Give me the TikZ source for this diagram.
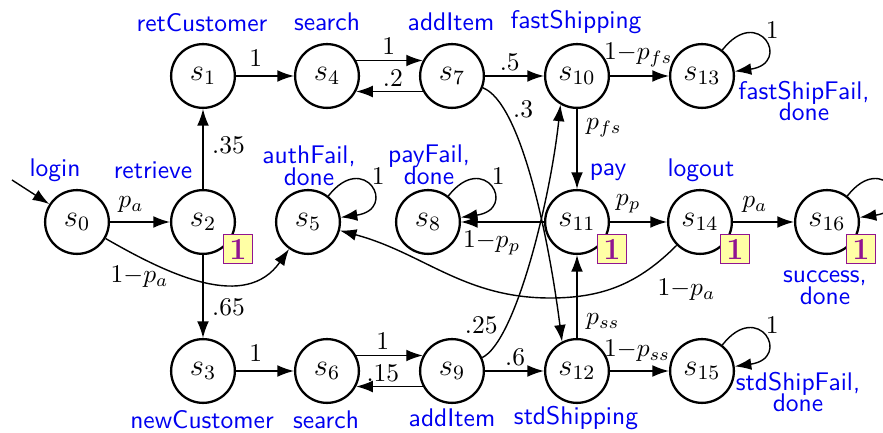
\documentclass[tikz,border=0pt]{standalone}
\usetikzlibrary{arrows.meta}
\definecolor{boxpurple}{RGB}{145,20,145}
\definecolor{boxfill}{RGB}{255,255,165}
\definecolor{lblblue}{RGB}{0,0,240}
\begin{document}
\begin{tikzpicture}[x=0.392pt,y=0.392pt,
  st/.style={circle,draw,line width=0.9pt,minimum size=25pt,inner sep=0pt,font=\large},
  act/.style={text=lblblue,font=\sffamily,align=center},
  rew/.style={draw=boxpurple,fill=boxfill,text=boxpurple,font=\large\bfseries,line width=0.6pt,minimum width=11.5pt,minimum height=11.5pt,inner sep=0pt},
  tr/.style={-{Latex[length=6.5pt,width=4.6pt]},line width=0.55pt},
  lp/.style={tr,distance=23pt}
]
\useasboundingbox (0,0) rectangle (883,432);
\clip (0,0) rectangle (883,432);

% states
\node[st] (s0) at (77,210) {$s_0$};
\node[st] (s2) at (203,210) {$s_2$};
\node[st] (s1) at (203,356) {$s_1$};
\node[st] (s4) at (327,356) {$s_4$};
\node[st] (s7) at (452,356) {$s_7$};
\node[st] (s10) at (577,356) {$s_{10}$};
\node[st] (s13) at (702,356) {$s_{13}$};
\node[st] (s5) at (308,210) {$s_5$};
\node[st] (s8) at (428,210) {$s_8$};
\node[st] (s11) at (577,210) {$s_{11}$};
\node[st] (s14) at (700,210) {$s_{14}$};
\node[st] (s16) at (827,210) {$s_{16}$};
\node[st] (s3) at (203,61) {$s_3$};
\node[st] (s6) at (327,61) {$s_6$};
\node[st] (s9) at (452,61) {$s_9$};
\node[st] (s12) at (577,61) {$s_{12}$};
\node[st] (s15) at (702,61) {$s_{15}$};

% action labels
\node[act] (Llogin) at (55,262) {login};
\node[act] (Lretrieve) at (153,262) {retrieve};
\node[act] (LretC) at (202,409) {retCustomer};
\node[act] (Lsearch1) at (327,410) {search};
\node[act] (LaddI1) at (451,410) {addItem};
\node[act] (Lfast) at (576,410) {fastShipping};
\node[act] (LfastF) at (804,331) {fastShipFail,\\[-3.5pt]done};
\node[act] (Lauth) at (309,266) {authFail,\\[-3.5pt]done};
\node[act] (Lpayf) at (429,267) {payFail,\\[-3.5pt]done};
\node[act] (Lpay) at (608,260) {pay};
\node[act] (Llogout) at (701,262) {logout};
\node[act] (Lsucc) at (825,144) {success,\\[-3.5pt]done};
\node[act] (LnewC) at (202,12) {newCustomer};
\node[act] (Lsearch2) at (326,12) {search};
\node[act] (LaddI2) at (452,14) {addItem};
\node[act] (Lstd) at (576,14) {stdShipping};
\node[act] (LstdF) at (798,40) {stdShipFail,\\[-3.5pt]done};

% transitions
\coordinate (init) at (12,252);
\draw[tr] (init) -- (s0);
\draw[tr] (s0) -- node[pos=0.35,above] {$p_a$} (s2);
\draw[tr] (s0) to[out=-30,in=-125,looseness=1.05] node[pos=0.17,below] {$1{-}p_a$} (s5);
\draw[tr] (s2) -- node[pos=0.55,right] {$.35$} (s1);
\draw[tr] (s2) -- node[pos=0.625,right] {$.65$} (s3);
\draw[tr] (s1) -- node[pos=0.34,above] {$1$} (s4);
\draw[tr] (s4.28) -- node[pos=0.49,above,inner sep=2pt] {$1$} (s7.152);
\draw[tr] (s7.-152) -- node[pos=0.45,above,inner sep=1.5pt] {$.2$} (s4.-28);
\draw[tr] (s7) -- node[pos=0.42,above,inner sep=2pt] {$.5$} (s10);
\draw[tr] (s10) -- node[pos=0.48,above] {$1{-}p_{fs}$} (s13);
\draw[tr] (s10) -- node[pos=0.23,right] {$p_{fs}$} (s11);
\draw[tr] (s7.-21) .. controls (520,330) and (548,200) .. (s12.117) node[pos=0.2,right] {$.3$};
\draw[tr] (s9.24) .. controls (515,90) and (550,230) .. (s10.-120) node[pos=0.25,left] {$.25$};
\draw[tr] (s9) -- node[pos=0.51,above,inner sep=2pt] {$.6$} (s12);
\draw[tr] (s12) -- node[pos=0.46,above] {$1{-}p_{ss}$} (s15);
\draw[tr] (s12) -- node[pos=0.2,right] {$p_{ss}$} (s11);
\draw[tr] (s3) -- node[pos=0.34,above] {$1$} (s6);
\draw[tr] (s6.28) -- node[pos=0.4,above,inner sep=2pt] {$1$} (s9.152);
\draw[tr] (s9.-152) -- node[pos=0.6,above,inner sep=1.5pt] {$.15$} (s6.-28);
\draw[tr] (s11) -- node[pos=0.32,above] {$p_p$} (s14);
\draw[tr] (s11) -- node[pos=0.63,below] {$1{-}p_p$} (s8);
\draw[tr] (s14) -- node[pos=0.36,above] {$p_a$} (s16);
\coordinate (lowmid) at (550,134);
\draw[tr] (s14) to[out=-135,in=0] node[pos=0.25,below right] {$1{-}p_a$} (lowmid) to[out=180,in=-15] (s5);

% self loops
\draw[lp] (s5) to[out=52,in=8] node[pos=0.5,above right,inner sep=0.5pt] {$1$} (s5);
\draw[lp] (s8) to[out=52,in=8] node[pos=0.5,above right,inner sep=0.5pt] {$1$} (s8);
\draw[lp] (s13) to[out=52,in=8] node[pos=0.5,above right,inner sep=0.5pt] {$1$} (s13);
\draw[lp] (s15) to[out=52,in=8] node[pos=0.5,above right,inner sep=0.5pt] {$1$} (s15);
\draw[lp] (s16) to[out=52,in=8] (s16);

% reward boxes
\node[rew] (r2) at (238,183) {1};
\node[rew] (r11) at (612,183) {1};
\node[rew] (r14) at (735,183) {1};
\node[rew] (r16) at (861,183) {1};
\end{tikzpicture}
\end{document}
